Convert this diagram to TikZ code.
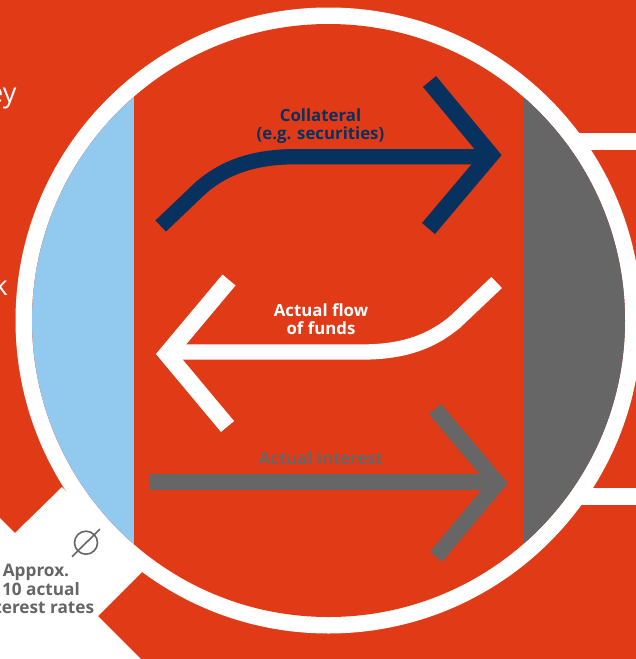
\documentclass[tikz,border=0pt]{standalone}
\usepackage{fontspec}
\setmainfont{Open Sans}
\definecolor{bgred}{HTML}{E03A17}
\definecolor{skyblue}{HTML}{92C9EE}
\definecolor{slate}{HTML}{666666}
\definecolor{navy}{HTML}{07315F}
\tikzset{
  flow/.style={line width=15.3pt,miter limit=10,line join=miter},
  headline/.style={line width=17pt,miter limit=10,line join=miter},
  lbl/.style={font=\fontsize{16.8}{17.6}\selectfont\bfseries,align=center,inner sep=0pt},
  big/.style={font=\fontsize{27}{30}\selectfont,text=white,inner sep=0pt},
}
\begin{document}
\begin{tikzpicture}[x=1pt,y=-1pt]
\useasboundingbox (0,0) rectangle (636,659);
\fill[bgred] (0,0) rectangle (636,659);
% side bars
\fill[white] (560,133) rectangle (636,150);
\fill[white] (560,488) rectangle (636,504.5);
% white corner
\fill[white] (0,518) -- (15,533) -- (62,487) -- (142,572) -- (98,616) -- (141,659) -- (0,659) -- cycle;
% disc
\coordinate (c) at (328.5,320.5);
\fill[white] (c) circle (313);
\begin{scope}
\clip (c) circle (296.5);
\fill[bgred] (0,0) rectangle (636,659);
\fill[skyblue] (0,0) rectangle (133.5,659);
\fill[slate] (524,0) rectangle (636,659);
\end{scope}
% arrows
\draw[flow,navy] (160.7,226) -- (200,188.5) .. controls (224,167) and (255,156.7) .. (295,156.7) -- (491,156.7);
\draw[headline,navy] (429.5,81.5) -- (490.5,155) -- (428.5,228.5);
\draw[flow,white] (496.7,282.5) -- (455,322) .. controls (432,341) and (405,352) .. (362,352) -- (170,352);
\draw[headline,white] (229,280) -- (167,354) -- (227.5,426.5);
\draw[flow,slate] (149,482) -- (498,482);
\draw[headline,slate,line width=15.8pt] (435,409) -- (497.5,483.3) -- (436,556.7);
% labels
\node[lbl,text=navy] (coll) at (320.5,126.3) {Collateral\\(e.g. securities)};
\node[lbl,text=white] (fund) at (321,319) {Actual flow\\of funds};
\node[lbl,text=slate] (intr) at (321,458) {Actual interest};
\node[lbl,text=slate,anchor=north,font=\fontsize{17.2}{18.6}\selectfont\bfseries] (appr) at (36,564) {Approx.\\110 actual\\interest rates};
\node[big,anchor=base west] (ey) at (-12,102.5) {ey};
\node[big,anchor=base east] (kk) at (8,295) {k};
% empty set symbol
\coordinate (o) at (86,542.7);
\draw[slate,line width=1.6pt] (o) circle (11.5);
\draw[slate,line width=1.6pt] (72,556.7) -- (100,529);
\end{tikzpicture}
\end{document}
